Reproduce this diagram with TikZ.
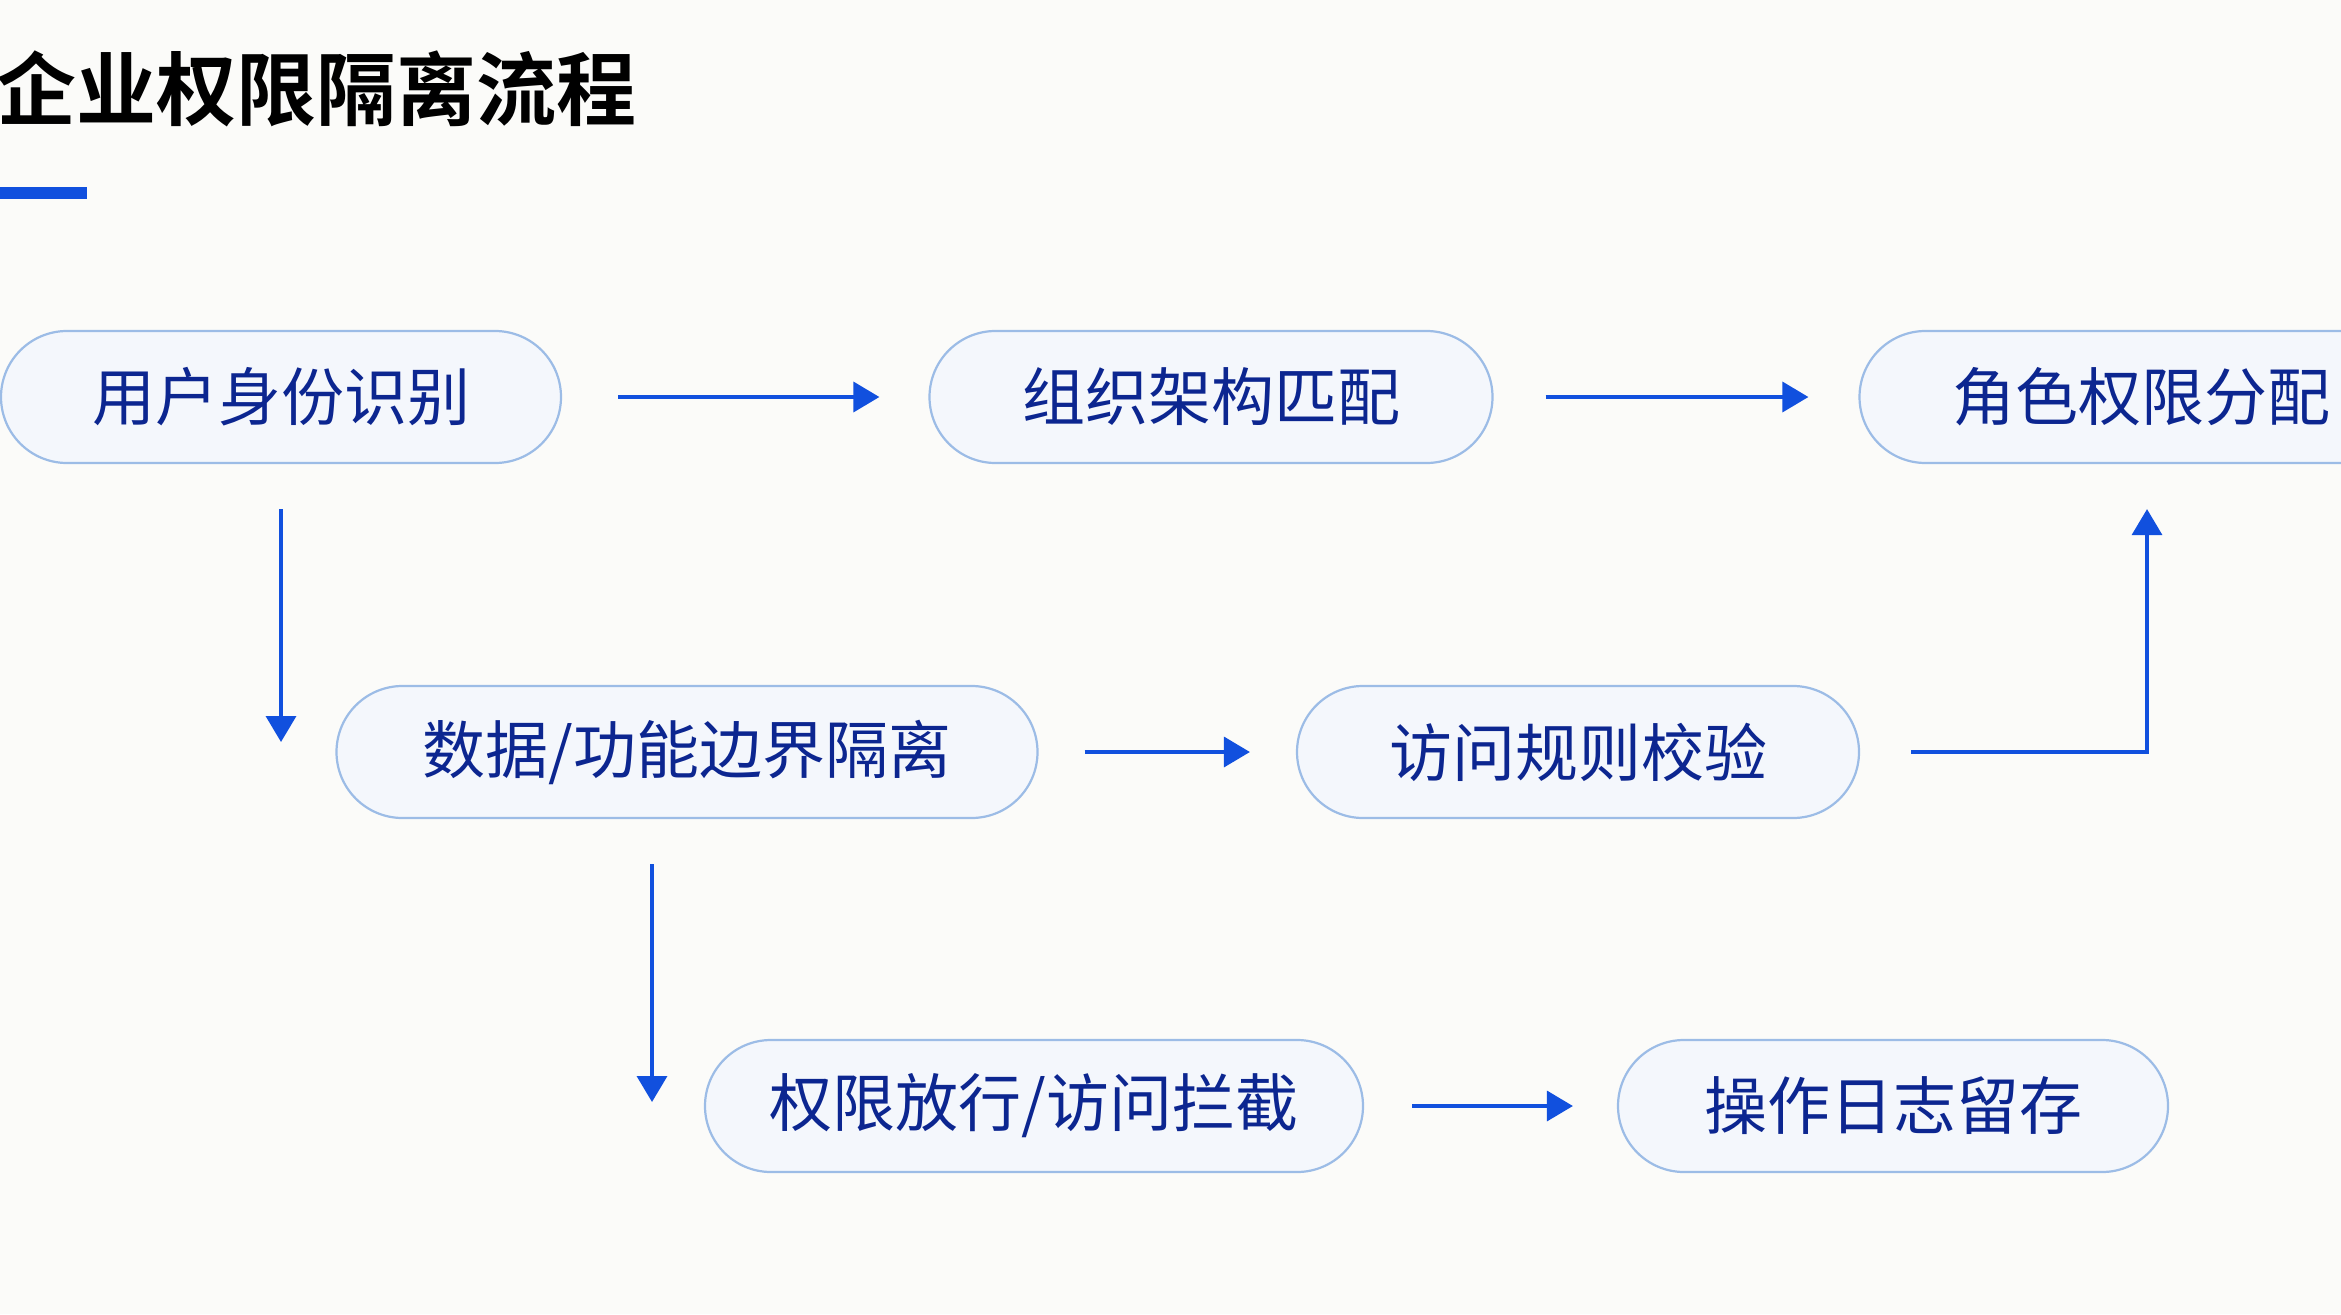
\documentclass[tikz,border=0pt]{standalone}
\usepackage{fontspec}
\newfontfamily\cjk{Noto Sans CJK SC}
\newfontfamily\cjkbold{Noto Sans CJK SC Bold}
\usetikzlibrary{arrows.meta,calc}
\definecolor{bgc}{HTML}{FBFBF9}
\definecolor{arrowblue}{HTML}{1150DE}
\definecolor{boxfill}{HTML}{F4F7FC}
\definecolor{boxline}{HTML}{9CBCE6}
\definecolor{textblue}{HTML}{0C2690}
\tikzset{
  stepbox/.style={draw=boxline, line width=2.2pt, fill=boxfill, rounded corners=66pt,
    minimum height=132pt, inner sep=0pt, text=textblue,
    font=\cjk\fontsize{63}{72}\selectfont},
  flow/.style={draw=arrowblue, line width=3.5pt, -{Triangle[length=26pt,width=30pt]}},
}
\begin{document}
\begin{tikzpicture}[x=1pt,y=-1pt]
\useasboundingbox (0,0) rectangle (2341,1314);
\clip (0,0) rectangle (2341,1314);
\fill[bgc] (0,0) rectangle (2341,1314);
% title
\node[anchor=west, inner sep=0pt, font=\cjkbold\fontsize{80}{92}\selectfont] (title) at (-4,89) {企业权限隔离流程};
\fill[arrowblue] (0,187) rectangle (87,199);
% nodes
\node[stepbox, minimum width=560pt] (n1) at (281,397) {用户身份识别};
\node[stepbox, minimum width=563pt] (n2) at (1211,397) {组织架构匹配};
\node[stepbox, minimum width=563pt] (n3) at (2141,397) {角色权限分配};
\node[stepbox, minimum width=701pt] (n4) at (687,752) {数据/功能边界隔离};
\node[stepbox, minimum width=562pt] (n5) at (1578,752) {访问规则校验};
\node[stepbox, minimum width=658pt] (n6) at (1034,1106) {权限放行/访问拦截};
\node[stepbox, minimum width=550pt] (n7) at (1893,1106) {操作日志留存};
% connectors
\draw[flow, shorten <=56pt, shorten >=49pt] (n1.east) -- (n2.west);
\draw[flow, shorten <=52pt, shorten >=50pt] (n2.east) -- (n3.west);
\draw[flow, shorten <=45pt, shorten >=10pt] (n1.south) -- (n1.south |- n4.west);
\draw[flow, shorten <=46pt, shorten >=46pt] (n4.east) -- (n5.west);
\draw[flow, shorten <=51pt, shorten >=45pt] (n5.east) -| ([xshift=6pt]n3.south);
\coordinate (d4) at ([xshift=-35pt]n4.south);
\draw[flow, shorten <=45pt, shorten >=4pt] (d4) -- (d4 |- n6.west);
\draw[flow, shorten <=48pt, shorten >=44pt] (n6.east) -- (n7.west);
\end{tikzpicture}
\end{document}
